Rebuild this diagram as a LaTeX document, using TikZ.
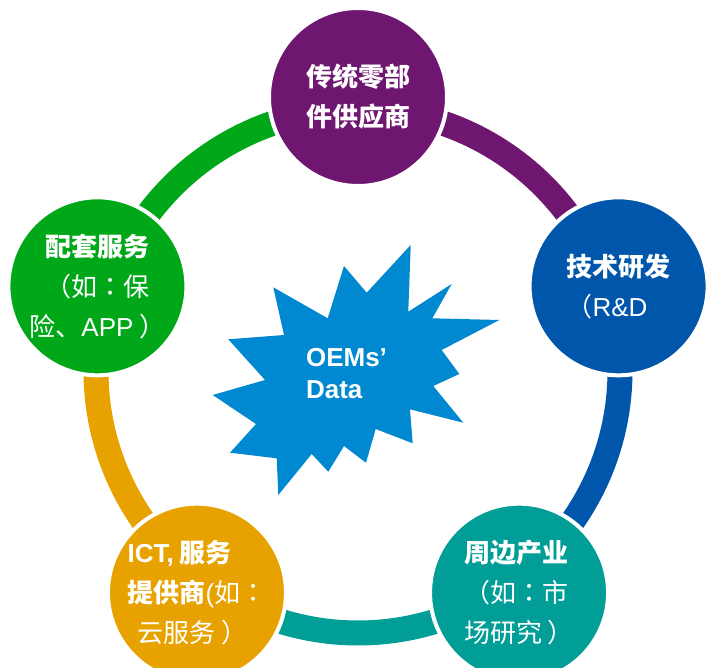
\documentclass[tikz,border=0pt]{standalone}
\usepackage{fontspec}
\setmainfont{Liberation Sans}
\newfontfamily\cjk{Noto Sans CJK SC}
\newfontfamily\cjkpunct{Noto Sans CJK TC}
\usepackage{tikz}
\usetikzlibrary{%
  positioning% wg. " of "
}

\definecolor{partsPurple}{RGB}{110,22,112}
\definecolor{rndBlue}{RGB}{0,86,170}
\definecolor{industryTeal}{RGB}{0,158,150}
\definecolor{ictOrange}{RGB}{232,162,0}
\definecolor{serviceGreen}{RGB}{0,168,25}
\definecolor{dataBlue}{RGB}{0,136,209}

\newcommand{\zhcolon}{{\cjkpunct ：}}

\begin{document}
\begin{tikzpicture}
    [   x=1pt, y=1pt
    ,   hub/.style=
            {   % The shape:
                circle
            ,   minimum size=178pt
            ,   inner sep=0pt
            ,   outer sep=0pt
            ,   % The rest
                draw=white
            ,   line width=4pt
            ,   text=white
            ,   font=\cjk\fontsize{26}{40}\selectfont
            }
    ,   ring/.style={line width=25pt}
    ]
    \useasboundingbox (-358,-296) rectangle (354,371);

    % ring pieces, clockwise
    \draw[ring,partsPurple]  (71:262)  arc[start angle=71,  end angle=37,   radius=262];
    \draw[ring,rndBlue]      (-1:262)  arc[start angle=-1,  end angle=-35,  radius=262];
    \draw[ring,industryTeal] (-73:262) arc[start angle=-73, end angle=-107, radius=262];
    \draw[ring,ictOrange]    (-145:262) arc[start angle=-145, end angle=-179, radius=262];
    \draw[ring,serviceGreen] (143:262) arc[start angle=143, end angle=109,  radius=262];

    \node[hub,fill=partsPurple,align=center](parts) at (90:274)
        {\textbf{传统零部}\\\textbf{件供应商}};
    \node[hub,fill=rndBlue,align=left](rnd) at (18:274)
        {\textbf{技术研发}\\（{\rmfamily R\&D}};
    \node[hub,fill=industryTeal,align=left](industry) at (-54:274)
        {\textbf{周边产业}\\（如\zhcolon 市\\场研究 ）};
    \node[hub,fill=ictOrange,align=left](ict) at (-126:274)
        {\textbf{{\rmfamily ICT,} 服务}\\\textbf{提供商}{\rmfamily (}如\zhcolon\\\hspace*{10pt}云服务 ）};
    \node[hub,fill=serviceGreen,align=center](service) at (162:274)
        {\textbf{配套服务}\\（如\zhcolon 保\\险、{\rmfamily APP} ）};

    % the burst in the middle
    \fill[dataBlue] (52.7,126) -- (50.3,59.3) -- (93.7,87) -- (74.3,52.7)
        -- (141.3,51) -- (83.7,21) -- (101.3,-3) -- (75.3,-15)
        -- (105.3,-51.7) -- (52,-38.3) -- (54.7,-72.3) -- (17.7,-58)
        -- (8,-91.7) -- (-14,-75) -- (-29.7,-100.7) -- (-46.3,-83)
        -- (-79.7,-124) -- (-81.3,-87.3) -- (-128,-81.7) -- (-102,-53)
        -- (-145.3,-24) -- (-93,-9) -- (-129.7,31.7) -- (-74,36)
        -- (-84.7,83.7) -- (-30.3,52.7) -- (-14,105) -- (8.7,78.3) -- cycle;
    \node[text=white,align=left,font=\bfseries\fontsize{26}{32}\selectfont](data) at (-11.5,-3)
        {OEMs’\\Data};
\end{tikzpicture}
\end{document}
